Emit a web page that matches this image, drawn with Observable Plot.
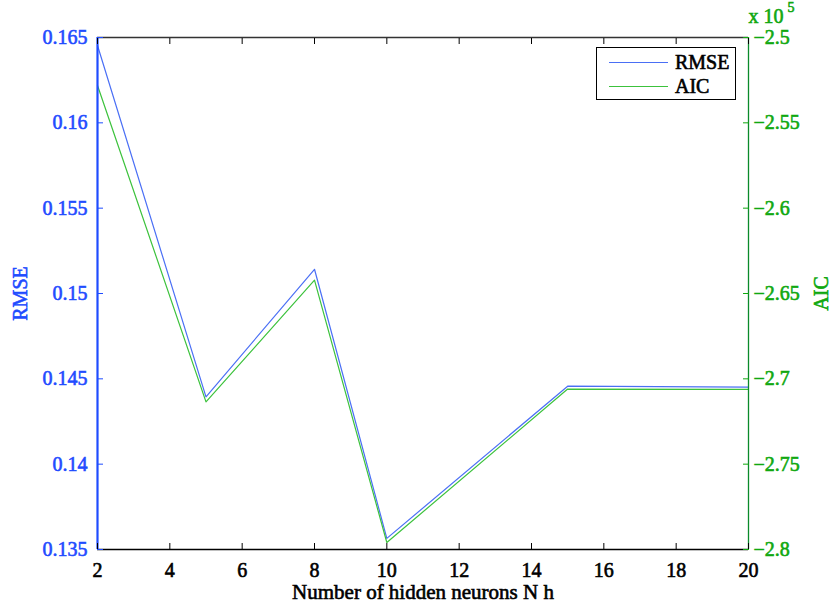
<!DOCTYPE html>
<html>
<head>
<meta charset="utf-8">
<script src="https://cdn.jsdelivr.net/npm/d3@7"></script>
<script src="https://cdn.jsdelivr.net/npm/@observablehq/plot@0.6"></script>
<style>
  html, body { margin: 0; padding: 0; background: #fff; }
  #wrap { position: relative; width: 830px; height: 603px; font-family: "Liberation Serif", "Times New Roman", serif; }
  #legend { position: absolute; left: 596px; top: 47px; width: 140px; height: 53px; border: 1px solid #000; background: #fff; box-sizing: border-box; font-size: 20px; font-weight: normal; -webkit-text-stroke: 0.6px #000; }
  #legend .row { position: absolute; left: 0; display: flex; align-items: center; height: 22px; }
  #legend .sw { display: inline-block; width: 59px; height: 0; border-top: 1.2px solid; margin-left: 12px; margin-right: 7px; }
</style>
</head>
<body>
<div id="wrap">
  <div id="chart"></div>
  <div id="legend">
    <div class="row" style="top:3px"><span class="sw" style="border-color:#4a6ff5"></span><span>RMSE</span></div>
    <div class="row" style="top:27px"><span class="sw" style="border-color:#3cc23c"></span><span>AIC</span></div>
  </div>
</div>
<script>
const neurons = [2, 5, 8, 10, 15, 20];
const rmse = [0.16453, 0.14394, 0.15142, 0.13565, 0.14457, 0.14451];
const aic = [-2.5281, -2.7135, -2.6422, -2.7959, -2.7060, -2.7062]; // x 10^5
const xTicks = [2, 4, 6, 8, 10, 12, 14, 16, 18, 20];
const rmseTicks = [0.135, 0.14, 0.145, 0.15, 0.155, 0.16, 0.165];
const aicTicks = [-2.8, -2.75, -2.7, -2.65, -2.6, -2.55, -2.5];

const blueText = "#1f4cff";
const blueLine = "#4a6ff5";
const greenText = "#10a810";
const greenLine = "#3cc23c";
const serif = "'Liberation Serif', 'Times New Roman', serif";

const rmseDomain = [0.135, 0.165];
const aicDomain = [-2.8, -2.5];
const toLeft = a => rmseDomain[0] + (a - aicDomain[0]) / (aicDomain[1] - aicDomain[0]) * (rmseDomain[1] - rmseDomain[0]);
const fromLeft = v => aicDomain[0] + (v - rmseDomain[0]) / (rmseDomain[1] - rmseDomain[0]) * (aicDomain[1] - aicDomain[0]);

const rmseData = neurons.map((n, i) => ({n, v: rmse[i]}));
const aicData = neurons.map((n, i) => ({n, v: toLeft(aic[i])}));
const fmtAic = v => {
  const a = Math.round(fromLeft(v) * 100) / 100;
  return (a < 0 ? "\u2212" : "") + String(Math.abs(a));
};
const xDom = [d3.min(xTicks), d3.max(xTicks)];

const chart = Plot.plot({
  width: 830,
  height: 603,
  marginLeft: 97,
  marginRight: 82,
  marginTop: 37,
  marginBottom: 54,
  style: {fontSize: "20px", fontWeight: "normal", background: "#fff", overflow: "visible"},
  x: {domain: xDom},
  y: {domain: rmseDomain},
  marks: [
    Plot.line(rmseData, {x: "n", y: "v", stroke: blueLine, strokeWidth: 1.2}),
    Plot.line(aicData, {x: "n", y: "v", stroke: greenLine, strokeWidth: 1.2}),
    Plot.ruleY([rmseDomain[0]], {stroke: "#000", strokeWidth: 1.5}),
    Plot.ruleY([rmseDomain[1]], {stroke: "#333", strokeWidth: 1.5}),
    Plot.ruleX([xDom[0]], {stroke: "#1f4cff", strokeWidth: 2.2}),
    Plot.ruleX([xDom[1]], {stroke: "#0a8a2a", strokeWidth: 1.3}),
    Plot.axisX({ticks: xTicks, tickSize: -6, tickPadding: 19, tickFormat: d => String(d), stroke: "#000", fill: "#000", label: "Number of hidden neurons N h", labelAnchor: "center", labelOffset: 49, labelArrow: "none"}),
    Plot.axisX({anchor: "top", ticks: xTicks, tickSize: -6, tickFormat: () => "", label: null, stroke: "#000"}),
    Plot.axisY({ticks: rmseTicks, tickSize: -6, tickPadding: 16, tickFormat: d => String(d), stroke: blueText, fill: blueText, label: "RMSE", labelAnchor: "center", labelOffset: 85, labelArrow: "none"}),
    Plot.axisY({anchor: "right", ticks: aicTicks.map(toLeft), tickSize: -6, tickPadding: 11, tickFormat: fmtAic, stroke: greenText, fill: greenText, label: "AIC", labelAnchor: "center", labelOffset: 79, labelArrow: "none"}),
    Plot.text(["x 10"], {frameAnchor: "top-right", text: d => d, dx: 0, dy: -29, textAnchor: "start", lineAnchor: "top", fill: greenText, fontSize: 20}),
    Plot.text(["5"], {frameAnchor: "top-right", text: d => d, dx: 39, dy: -35, textAnchor: "start", lineAnchor: "top", fill: greenText, fontSize: 14})
  ]
});
chart.style.setProperty("font-family", serif, "important");
chart.querySelectorAll("g, text, tspan").forEach(el => {
  el.removeAttribute("font-family");
  el.style.setProperty("font-family", serif, "important");
});
chart.querySelectorAll("text").forEach(t => {
  const holder = t.closest("[fill]");
  const f = t.getAttribute("fill") || (holder && holder.getAttribute("fill")) || "#000";
  t.setAttribute("stroke", f);
  t.setAttribute("stroke-width", 0.6);
});
const xLabel = chart.querySelector('g[aria-label="x-axis label"]');
if (xLabel) xLabel.style.fontSize = "21px";
document.getElementById("chart").appendChild(chart);
</script>
</body>
</html>
